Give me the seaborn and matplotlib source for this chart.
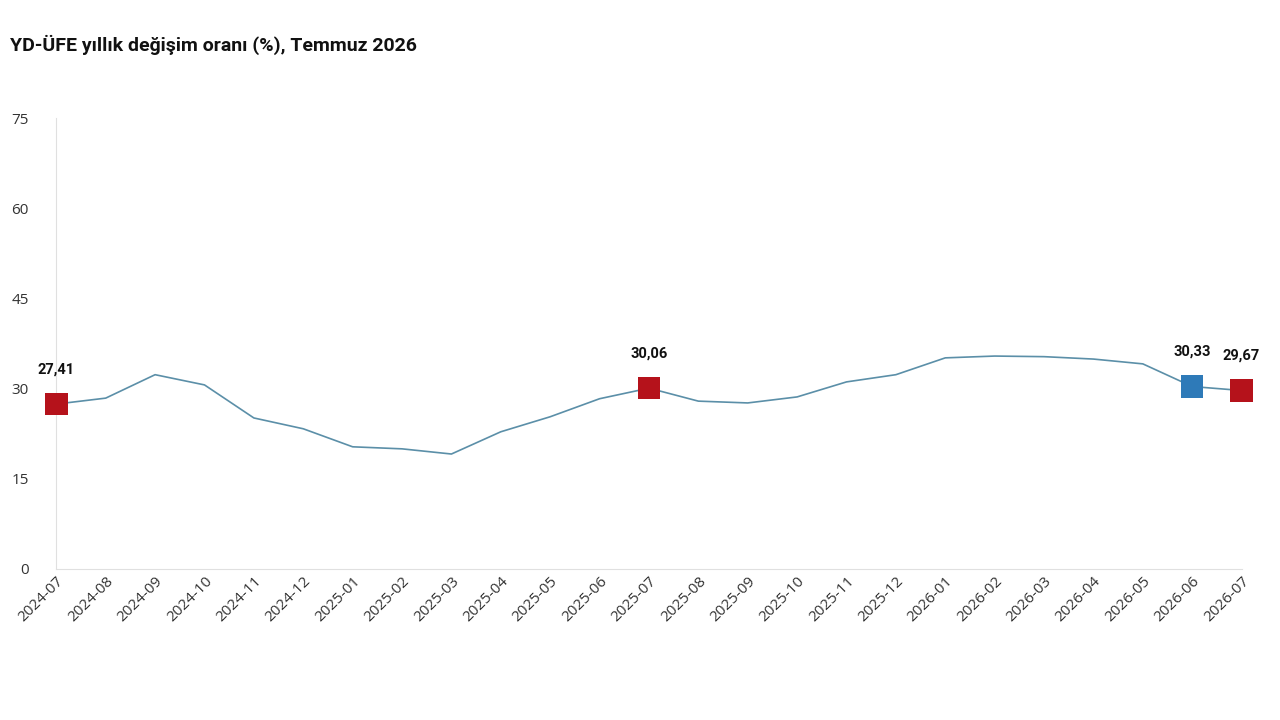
import matplotlib
matplotlib.use("Agg")
import matplotlib.pyplot as plt
import seaborn as sns
import pandas as pd

months = ["2024-07", "2024-08", "2024-09", "2024-10", "2024-11", "2024-12",
          "2025-01", "2025-02", "2025-03", "2025-04", "2025-05", "2025-06",
          "2025-07", "2025-08", "2025-09", "2025-10", "2025-11", "2025-12",
          "2026-01", "2026-02", "2026-03", "2026-04", "2026-05", "2026-06", "2026-07"]
values = [27.41, 28.4, 32.3, 30.6, 25.1, 23.3, 20.3, 19.96, 19.1, 22.8, 25.3, 28.3,
          30.06, 27.9, 27.6, 28.6, 31.1, 32.3, 35.1, 35.4, 35.3, 34.9, 34.1, 30.33, 29.67]
red_months = ["2024-07", "2025-07", "2026-07"]
blue_months = ["2026-06"]

df = pd.DataFrame({"ay": months, "deger": values})
df["x"] = range(len(df))

sns.set_style("white")
plt.rcParams['font.family'] = ['Open Sans', 'DejaVu Sans']

fig = plt.figure(figsize=(12.8, 7.2), dpi=100)
ax = fig.add_axes([0.044, 0.21, 0.926, 0.626])

sns.lineplot(data=df, x="x", y="deger", ax=ax, color="#5b8fa8", linewidth=1.2)
red = df[df["ay"].isin(red_months)]
blue = df[df["ay"].isin(blue_months)]
sns.scatterplot(data=red, x="x", y="deger", ax=ax, marker="s", s=260,
                color="#b5121b", edgecolor="none", zorder=5, clip_on=False)
sns.scatterplot(data=blue, x="x", y="deger", ax=ax, marker="s", s=260,
                color="#2e7ab8", edgecolor="none", zorder=5, clip_on=False)

for _, r in pd.concat([red, blue]).iterrows():
    ax.annotate(f"{r['deger']:.2f}".replace(".", ","), (r["x"], r["deger"]),
                xytext=(0, 22), textcoords="offset points", ha="center",
                fontsize=10.5, fontweight="bold", color="#111111",
                family=["Roboto", "DejaVu Sans"])

ax.set_xlim(0, len(df) - 1)
ax.set_ylim(0, 75)
ax.set_yticks([0, 15, 30, 45, 60, 75])
ax.set_xticks(df["x"])
ax.set_xticklabels(months, rotation=45, ha="right", rotation_mode="anchor")
ax.tick_params(axis="both", labelsize=11, colors="#333333", length=0)
ax.tick_params(axis="y", pad=20)
ax.set_xlabel("")
ax.set_ylabel("")
for s in ["top", "right"]:
    ax.spines[s].set_visible(False)
for s in ["left", "bottom"]:
    ax.spines[s].set_color("#e0e0e0")

fig.text(0.008, 0.93, "YD-ÜFE yıllık değişim oranı (%), Temmuz 2026",
         fontsize=14, fontweight="bold", color="#111111",
         family=["Roboto", "DejaVu Sans"])

fig.savefig("out.png", dpi=100, facecolor="white")
